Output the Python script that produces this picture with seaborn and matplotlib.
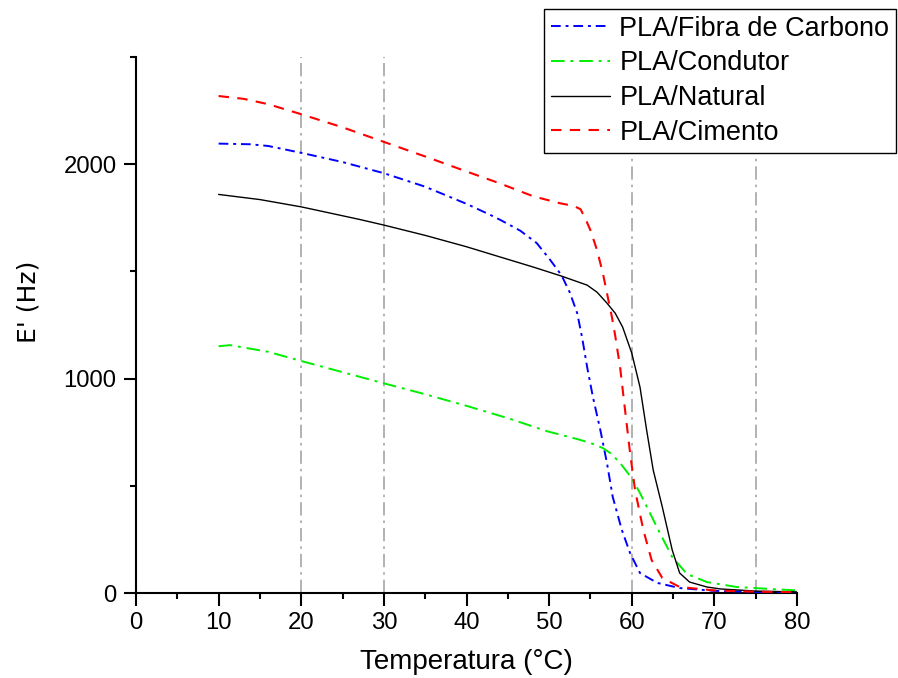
import matplotlib
matplotlib.use("Agg")
import matplotlib.pyplot as plt
from matplotlib.ticker import MultipleLocator
import numpy as np
import pandas as pd
import seaborn as sns

# Storage modulus vs temperature for the four PLA filaments
temp_carbono = [10, 13.8, 16, 20, 25, 30, 35, 40, 42.8, 44.1, 46.5, 48.5, 50.1, 51.5, 52.5,
                53.4, 54.0, 54.6, 55.3, 56.2, 57.0, 57.7, 58.8, 59.8, 61.0, 63.1, 65.8, 70,
                75, 80]
e_carbono = [2096, 2093, 2085, 2053, 2010, 1958, 1895, 1815, 1765, 1740, 1690, 1632, 1555,
             1482, 1402, 1305, 1190, 1054, 914, 760, 606, 448, 294, 186, 93, 47, 23, 10, 5, 3]

temp_condutor = [10, 11.4, 16, 20, 25, 29.9, 35, 40, 45.3, 49.7, 53.4, 55, 56.5, 57.5, 58.6,
                 60, 61, 62.2, 63.4, 64.9, 66.7, 69.1, 72.7, 76.7, 80]
e_condutor = [1151, 1156, 1125, 1082, 1030, 979, 927, 873, 812, 755, 718, 700, 676, 650,
              606, 536, 466, 373, 280, 168, 88, 51, 28, 19, 12]

temp_natural = [10, 15, 20, 27.1, 30, 35, 40, 44, 48.1, 51.5, 54.6, 55.8, 57, 58, 58.9, 60,
                61, 61.8, 62.6, 63.7, 64.9, 65.8, 67, 69.1, 70.7, 75, 80]
e_natural = [1859, 1835, 1801, 1742, 1716, 1668, 1615, 1568, 1520, 1478, 1436, 1403, 1352,
             1305, 1240, 1119, 960, 760, 573, 401, 200, 93, 51, 28, 19, 9, 5]

temp_cimento = [10, 13, 16, 20, 25, 30, 35, 40, 44, 48.1, 51.3, 53.0, 53.8, 54.4, 55, 55.8,
                56.5, 57.1, 57.6, 58.0, 58.6, 59.2, 59.8, 60.4, 61.4, 62.4, 63.7, 65.8, 70,
                75, 80]
e_cimento = [2318, 2305, 2280, 2233, 2172, 2104, 2036, 1966, 1911, 1850, 1818, 1805, 1790,
             1745, 1692, 1599, 1492, 1380, 1287, 1200, 1050, 850, 653, 480, 294, 154, 70,
             28, 12, 6, 4]

labels = ["PLA/Fibra de Carbono", "PLA/Condutor", "PLA/Natural", "PLA/Cimento"]
reference_temps = [20, 30, 60, 75]
x_ticks = [0, 10, 20, 30, 40, 50, 60, 70, 80]
y_ticks = [0, 1000, 2000]

sns.set_style("ticks")
plt.rcParams["font.family"] = ["Liberation Sans", "DejaVu Sans"]
plt.rcParams["text.color"] = "black"
plt.rcParams["axes.labelcolor"] = "black"
plt.rcParams["xtick.labelcolor"] = "black"
plt.rcParams["ytick.labelcolor"] = "black"

fig = plt.figure(figsize=(8.98, 6.78), dpi=100)
ax = fig.add_axes([136 / 898, 1 - 593 / 678, (797 - 136) / 898, (593 - 57) / 678])

for t in reference_temps:
    ax.axvline(t, color="#a6a6a6", lw=1.2, ls=(0, (8, 3, 1.5, 3)), zorder=1)

series = [
    (temp_carbono, e_carbono, "#0000ff", (0, (5, 2.5, 1.5, 2.5)), 1.4),
    (temp_condutor, e_condutor, "#00ee00", (0, (7, 3, 1.5, 3)), 1.4),
    (temp_natural, e_natural, "black", "-", 1.0),
    (temp_cimento, e_cimento, "#ff0000", (0, (5, 4)), 1.5),
]
for (t, e, c, ls, lw), lab in zip(series, labels):
    df = pd.DataFrame({"Temperatura": t, "E": e})
    sns.lineplot(data=df, x="Temperatura", y="E", ax=ax, color=c, lw=lw,
                 linestyle=ls, label=lab, zorder=3)

ax.set_xlim(0, 80)
ax.set_ylim(0, 2500)
ax.set_xticks(x_ticks)
ax.set_yticks(y_ticks)
ax.xaxis.set_minor_locator(MultipleLocator(5))
ax.yaxis.set_minor_locator(MultipleLocator(500))
ax.tick_params(which="major", length=9, width=1.5, labelsize=17.2, direction="out",
               color="black", labelcolor="black", pad=5)
ax.tick_params(which="minor", length=4, width=1.5, direction="out", color="black")
for side in ("top", "right"):
    ax.spines[side].set_visible(False)
for side in ("left", "bottom"):
    ax.spines[side].set_linewidth(1.5)
    ax.spines[side].set_color("black")

ax.set_xlabel("Temperatura (°C)", fontsize=20, color="black")
ax.xaxis.set_label_coords(0.5, -0.105)
ax.set_ylabel("E' (Hz)", fontsize=18, family="DejaVu Sans", color="black")
ax.yaxis.set_label_coords(-0.145, 0.543)

leg = ax.legend(loc="upper left", bbox_to_anchor=(544 / 898, 1 - 9 / 678),
                bbox_transform=fig.transFigure, fontsize=19.5, frameon=True,
                fancybox=False, edgecolor="black", framealpha=1, borderpad=0.25,
                handlelength=2.2, handletextpad=0.33, labelspacing=0.32,
                borderaxespad=0)
leg.get_frame().set_linewidth(1.0)
for txt in leg.get_texts():
    txt.set_color("black")

fig.savefig("out.png", dpi=100)
